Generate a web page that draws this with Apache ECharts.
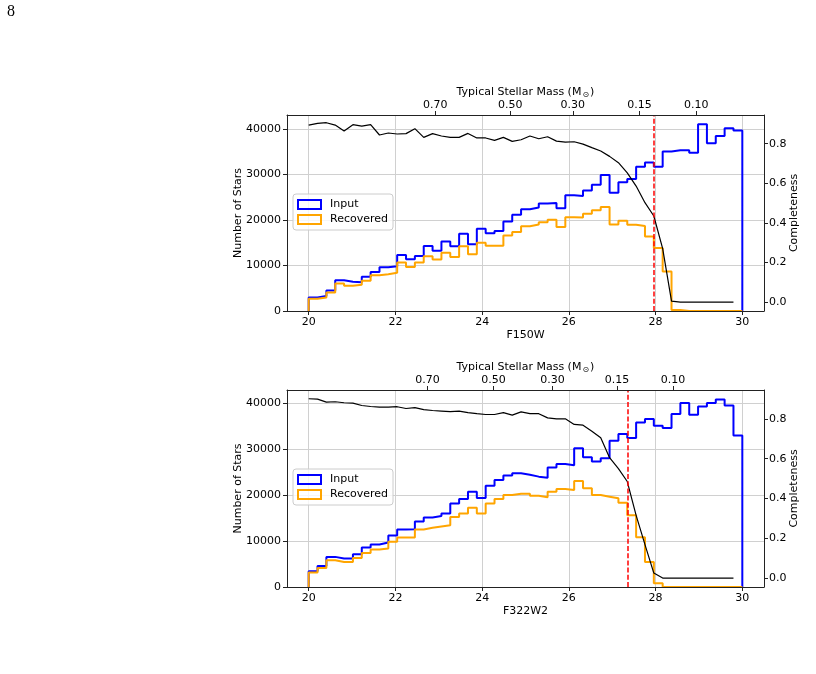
<!DOCTYPE html>
<html>
<head>
<meta charset="utf-8">
<script src="https://cdn.jsdelivr.net/npm/echarts@6/dist/echarts.min.js"></script>
<style>
html,body{margin:0;padding:0;background:#ffffff;}
#chart{width:816px;height:674px;}
</style>
</head>
<body>
<div id="chart"></div>
<script>
// ---------------- data ----------------
const magTicks = [20, 22, 24, 26, 28, 30];
const countTicks = [0, 10000, 20000, 30000, 40000];
const compTicks = [0, 0.2, 0.4, 0.6, 0.8];
const massLabels = ['0.70', '0.50', '0.30', '0.15', '0.10'];
const massTickMagF150W = [22.92, 24.65, 26.09, 27.63, 28.94];
const massTickMagF322W2 = [22.74, 24.26, 25.62, 27.11, 28.40];
const filterNames = ['F150W', 'F322W2'];
const legendNames = ['Input', 'Recovered'];
const binLo = 20, binHi = 30, nBins = 49;

const inputF150W = [2990, 3280, 4520, 6770, 6410, 6340, 7500, 8590, 9610, 9830,
  12310, 11360, 12090, 14280, 13260, 15290, 14200, 16970, 14640, 18060,
  17100, 17550, 19660, 21120, 22350, 22720, 23600, 23740, 22580, 25420,
  25270, 26440, 27750, 29860, 26000, 28260, 28990, 31680, 32630, 31680,
  35030, 35320, 35320, 34740, 41000, 36850, 38460, 40130, 39620];
const recoveredF150W = [2700, 2990, 4080, 6050, 5540, 5750, 6630, 7870, 8080, 8380,
  10630, 9690, 10630, 12020, 11290, 12820, 11870, 14200, 12450, 15000,
  14350, 14350, 16600, 17330, 18600, 19010, 19520, 20030, 18430, 20610,
  20540, 21340, 22140, 22870, 19010, 19810, 18940, 18650, 16390, 13840,
  8700, 220, 0, 0, 0, 0, 0, 0, 0];
const completenessF150W = [0.894, 0.903, 0.906, 0.894, 0.864, 0.896, 0.889, 0.896, 0.844, 0.854,
  0.849, 0.851, 0.876, 0.832, 0.851, 0.839, 0.832, 0.832, 0.852, 0.829,
  0.829, 0.817, 0.832, 0.812, 0.820, 0.839, 0.825, 0.835, 0.813, 0.808,
  0.810, 0.798, 0.780, 0.763, 0.736, 0.704, 0.653, 0.586, 0.502, 0.435,
  0.270, 0.005, 0, 0, 0, 0, 0, 0, 0];

const inputF322W2 = [3420, 4580, 6550, 6180, 6180, 7130, 8580, 9240, 9670, 11200,
  12510, 12580, 14250, 15130, 15420, 16000, 18180, 19130, 20730, 19350,
  22040, 23270, 24220, 24730, 24400, 24000, 23780, 25960, 26770, 26490,
  30200, 28230, 27280, 28020, 31790, 33250, 32380, 35780, 36530, 35060,
  34560, 37600, 40000, 37450, 39270, 40000, 40800, 39490, 32950];
const recoveredF322W2 = [3130, 4150, 5820, 5450, 5450, 6330, 7420, 8150, 8360, 9820,
  10760, 10760, 12510, 12870, 13160, 13450, 15200, 16000, 17240, 16000,
  18180, 19130, 20000, 20290, 20290, 19850, 19530, 20730, 21320, 21100,
  23060, 21470, 20000, 19640, 19280, 18330, 15600, 10840, 5450, 800,
  0, 0, 0, 0, 0, 0, 0, 0, 0];
const completenessF322W2 = [0.901, 0.899, 0.884, 0.886, 0.881, 0.879, 0.867, 0.862, 0.859, 0.859,
  0.861, 0.852, 0.856, 0.846, 0.842, 0.839, 0.836, 0.839, 0.831, 0.826,
  0.822, 0.822, 0.831, 0.819, 0.835, 0.826, 0.826, 0.805, 0.800, 0.800,
  0.772, 0.768, 0.738, 0.705, 0.605, 0.550, 0.485, 0.315, 0.168, 0.025,
  0, 0, 0, 0, 0, 0, 0, 0, 0];

const limitMag = [27.96, 27.35];
const countMax = [43050, 42840];

// ---------------- build ----------------
const FONT = 'DejaVu Sans';
const edges = [];
for (let i = 0; i <= nBins; i++) edges.push(binLo + i * (binHi - binLo) / nBins);

function stepData(vals) {
  const d = [[edges[0], 0]];
  vals.forEach((v, i) => d.push([edges[i], v]));
  d.push([edges[nBins], vals[vals.length - 1]]);
  d.push([edges[nBins], 0]);
  return d;
}
function compData(vals) {
  return vals.map((v, i) => [edges[i], v]);
}

const panels = [
  {input: inputF150W, rec: recoveredF150W, comp: completenessF150W, mass: massTickMagF150W},
  {input: inputF322W2, rec: recoveredF322W2, comp: completenessF322W2, mass: massTickMagF322W2}
];
const gridTops = [115, 390];
const gridHeights = [196, 197];

const axisLineStyle = {color: '#222', width: 1};
const tickStyle = {color: '#222', width: 1};
const labelBase = {fontFamily: FONT, fontSize: 11, color: '#000'};
const gridLineStyle = {color: '#d0d0d0', width: 1};

const grids = [], xAxes = [], yAxes = [], series = [], legends = [];
panels.forEach((p, k) => {
  grids.push({left: 287, top: gridTops[k], width: 477, height: gridHeights[k], containLabel: false});
  // bottom magnitude axis (drawn above the histograms, like matplotlib spines)
  xAxes.push({
    gridIndex: k, type: 'value', min: 19.5, max: 30.5, position: 'bottom', z: 10,
    name: filterNames[k], nameLocation: 'middle', nameGap: 19, nameMoveOverlap: false,
    nameTextStyle: {fontFamily: FONT, fontSize: 11, color: '#000'},
    axisLine: {show: true, onZero: false, lineStyle: axisLineStyle},
    axisTick: {show: true, customValues: magTicks, length: 4, lineStyle: tickStyle},
    axisLabel: Object.assign({customValues: magTicks, margin: 6, formatter: v => String(v)}, labelBase),
    splitLine: {show: false}
  });
  // top mass axis
  xAxes.push({
    gridIndex: k, type: 'value', min: 19.5, max: 30.5, position: 'top', z: 10,
    name: 'Typical Stellar Mass (M{s|⊙})', nameLocation: 'middle', nameGap: 16, nameMoveOverlap: false,
    nameTextStyle: {fontFamily: FONT, fontSize: 11, color: '#000',
      rich: {s: {fontFamily: FONT, fontSize: 8, color: '#000', padding: [5, 1, 0, 1]}}},
    axisLine: {show: true, onZero: false, lineStyle: axisLineStyle},
    axisTick: {show: true, customValues: p.mass, length: 4, lineStyle: tickStyle},
    axisLabel: Object.assign({customValues: p.mass, margin: 4,
      formatter: v => {
        const i = p.mass.findIndex(m => Math.abs(m - v) < 1e-6);
        return i >= 0 ? massLabels[i] : '';
      }}, labelBase),
    splitLine: {show: false}
  });
  // helper axis for vertical grid lines below the data
  xAxes.push({
    gridIndex: k, type: 'value', min: 19.5, max: 30.5, position: 'bottom', z: 0,
    axisLine: {show: false}, axisLabel: {show: false},
    axisTick: {show: false, customValues: magTicks},
    splitLine: {show: true, lineStyle: gridLineStyle}
  });
  yAxes.push({
    gridIndex: k, type: 'value', min: 0, max: countMax[k], position: 'left', z: 0,
    name: 'Number of Stars', nameLocation: 'middle', nameGap: 43, nameMoveOverlap: false,
    nameTextStyle: {fontFamily: FONT, fontSize: 11, color: '#000'},
    axisLine: {show: true, onZero: false, lineStyle: axisLineStyle},
    axisTick: {show: true, customValues: countTicks, length: 4, lineStyle: tickStyle},
    axisLabel: Object.assign({customValues: countTicks, margin: 6, formatter: v => String(v)}, labelBase),
    splitLine: {show: true, lineStyle: gridLineStyle}
  });
  yAxes.push({
    gridIndex: k, type: 'value', min: -0.045, max: 0.945, position: 'right', z: 10,
    name: 'Completeness', nameLocation: 'middle', nameGap: 25, nameMoveOverlap: false,
    nameTextStyle: {fontFamily: FONT, fontSize: 11, color: '#000'},
    axisLine: {show: true, onZero: false, lineStyle: axisLineStyle},
    axisTick: {show: true, customValues: compTicks, length: 4, lineStyle: tickStyle},
    axisLabel: Object.assign({customValues: compTicks, margin: 5, formatter: v => v.toFixed(1)}, labelBase),
    splitLine: {show: false}
  });
  series.push({
    name: legendNames[0], type: 'line', xAxisIndex: 3 * k, yAxisIndex: 2 * k,
    data: stepData(p.input), step: 'end', showSymbol: false, symbol: 'none',
    lineStyle: {color: '#0000ff', width: 2}, itemStyle: {color: '#0000ff'}, z: 2, silent: true
  });
  series.push({
    name: legendNames[1], type: 'line', xAxisIndex: 3 * k, yAxisIndex: 2 * k,
    data: stepData(p.rec), step: 'end', showSymbol: false, symbol: 'none',
    lineStyle: {color: '#ffa500', width: 2}, itemStyle: {color: '#ffa500'}, z: 3, silent: true
  });
  series.push({
    name: 'Completeness', type: 'line', xAxisIndex: 3 * k, yAxisIndex: 2 * k + 1,
    data: compData(p.comp), showSymbol: false, symbol: 'none',
    lineStyle: {color: '#000', width: 1.2}, itemStyle: {color: '#000'}, z: 4, silent: true,
    markLine: {
      silent: true, symbol: 'none', label: {show: false}, animation: false,
      lineStyle: {color: '#ff0000', width: 1.5, type: [5, 2.2]},
      data: [{xAxis: limitMag[k]}]
    }
  });
  legends.push({
    left: 293, top: gridTops[k] + 79, orient: 'vertical', selectedMode: false, z: 6,
    data: [
      {name: legendNames[0], icon: 'rect', itemStyle: {color: 'rgba(0,0,0,0)', borderColor: '#0000ff', borderWidth: 2}},
      {name: legendNames[1], icon: 'rect', itemStyle: {color: 'rgba(0,0,0,0)', borderColor: '#ffa500', borderWidth: 2}}
    ],
    itemWidth: 23, itemHeight: 9, itemGap: 4,
    padding: [5, 5, 5, 4],
    borderColor: '#cccccc', borderWidth: 1, borderRadius: 3,
    backgroundColor: 'rgba(255,255,255,0.8)',
    textStyle: {fontFamily: FONT, fontSize: 11, color: '#000', padding: [0, 0, 0, 4]}
  });
});

const chart = echarts.init(document.getElementById('chart'), null, {renderer: 'canvas'});
chart.setOption({
  animation: false,
  backgroundColor: '#ffffff',
  grid: grids,
  xAxis: xAxes,
  yAxis: yAxes,
  legend: legends,
  series: series,
  graphic: [{
    type: 'text', left: 7, top: 4,
    style: {text: '8', font: '16px "Liberation Serif", "DejaVu Serif", serif', fill: '#000'}
  }]
});
</script>
</body>
</html>
